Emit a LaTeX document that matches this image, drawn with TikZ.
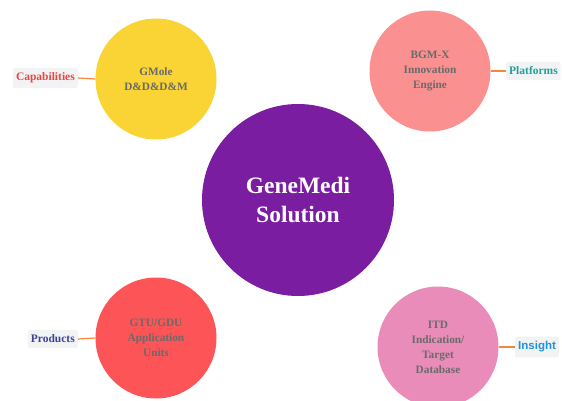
\documentclass[tikz,border=0pt]{standalone}
\usepackage{fontspec}
\setmainfont{Liberation Serif}
\newfontfamily\lsans{Liberation Sans}
\definecolor{cyel}{HTML}{F9D434}
\definecolor{cpink}{HTML}{FA9190}
\definecolor{cred}{HTML}{FD5457}
\definecolor{crose}{HTML}{E98CBA}
\definecolor{cpurple}{HTML}{7A1DA0}
\definecolor{ctext}{HTML}{6A6A6A}
\definecolor{cline}{HTML}{F7863C}
\definecolor{cbox}{HTML}{F2F3F5}
\definecolor{lcap}{HTML}{E8473D}
\definecolor{lplat}{HTML}{23A098}
\definecolor{lprod}{HTML}{3E429A}
\definecolor{lins}{HTML}{1E94E4}
\tikzset{
  sat/.style={circle, minimum size=121pt, inner sep=0pt, text=ctext, font=\bfseries\fontsize{11.3}{15}\selectfont, align=center},
  lab/.style={fill=cbox, rounded corners=2pt, inner xsep=3pt, inner ysep=5pt, font=\bfseries\fontsize{11.5}{12}\selectfont},
  link/.style={draw=cline, line width=1.2pt}
}
\begin{document}
\begin{tikzpicture}[x=1pt,y=-1pt]
\useasboundingbox (0,0) rectangle (562,401);
\begin{scope}
\clip (0,0) rectangle (562,401);
\node[circle, fill=cpurple, minimum size=192pt, inner sep=0pt, text=white, align=center, font=\bfseries\fontsize{23.5}{29}\selectfont] (main) at (298,200) {GeneMedi\\Solution};
\node[sat, fill=cyel] (gm) at (156,79) {GMole\\D\&D\&D\&M};
\node[sat, fill=cpink] (bgm) at (430,71) {BGM-X\\Innovation\\Engine};
\node[sat, fill=cred] (gtu) at (156,338) {GTU/GDU\\Application\\Units};
\node[sat, fill=crose] (itd) at (438,347) {ITD\\Indication/\\Target\\Database};
\end{scope}
\node[lab, text=lcap, anchor=east] (cap) at (78,78) {Capabilities};
\node[lab, text=lplat, anchor=west] (plat) at (506,71) {Platforms};
\node[lab, text=lprod, anchor=east] (prod) at (78,339) {Products};
\node[lab, text=lins, anchor=west, font=\lsans\bfseries\fontsize{11.5}{12}\selectfont] (ins) at (515,347) {Insight};
\draw[link] (cap.east) -- (gm.west);
\draw[link] (bgm.east) -- (plat.west);
\draw[link] (prod.east) -- (gtu.west);
\draw[link] (itd.east) -- (ins.west);
\end{tikzpicture}
\end{document}
